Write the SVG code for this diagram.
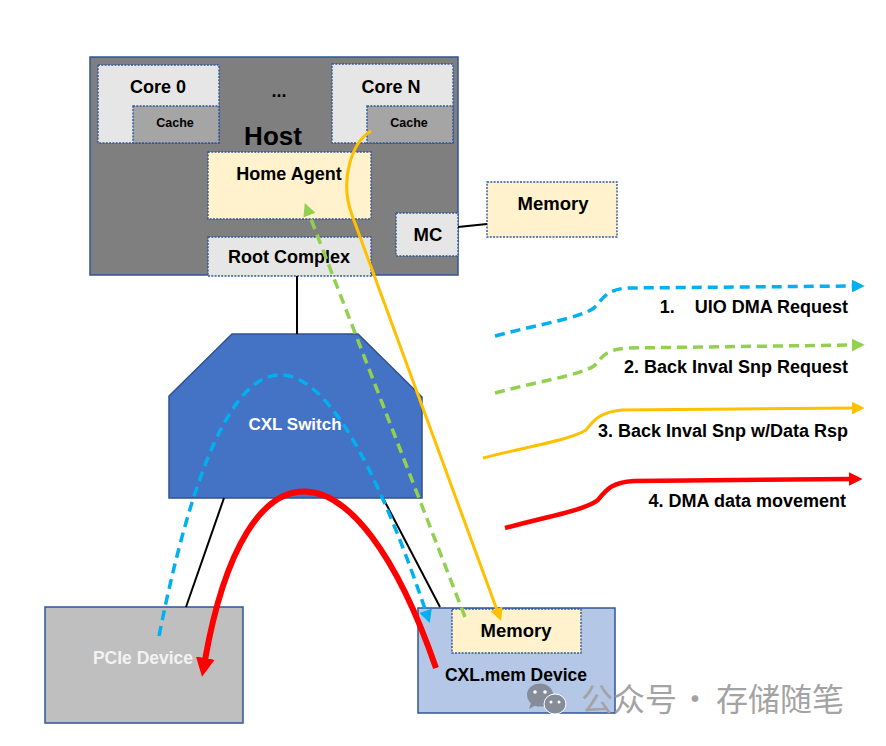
<svg xmlns="http://www.w3.org/2000/svg" width="886" height="746" viewBox="0 0 886 746">
<style>
text{font-family:"Liberation Sans",Arial,sans-serif;font-weight:bold;text-anchor:middle;fill:#000}
.solid{stroke:#2f5597;stroke-width:1.5}
.dot{stroke:#2f5597;stroke-width:1.4;stroke-dasharray:2 1.3}
.light{fill:#e7e6e6}
.cache{fill:#a5a5a5}
.cream{fill:#fff2cc}
.wire{stroke:#000;stroke-width:2;fill:none}
.blue{stroke:#00b0f0;stroke-width:3.5;fill:none;stroke-dasharray:10 6}
.green{stroke:#92d050;stroke-width:3.5;fill:none;stroke-dasharray:10 6}
.orange{stroke:#ffc000;stroke-width:3;fill:none}
.red{stroke:#ff0000;fill:none}
.leg{text-anchor:end;font-size:18px}
.wm{font-family:"Noto Sans CJK SC",sans-serif;font-weight:normal;fill:#a3a3a3;text-anchor:start;font-size:32px}
</style>
<defs>
<marker id="aBlue" viewBox="0 0 10 10" refX="1" refY="5" markerWidth="13" markerHeight="13" markerUnits="userSpaceOnUse" orient="auto"><path d="M0,0 L10,5 L0,10 z" fill="#00b0f0"/></marker>
<marker id="aGreen" viewBox="0 0 10 10" refX="1" refY="5" markerWidth="13" markerHeight="13" markerUnits="userSpaceOnUse" orient="auto"><path d="M0,0 L10,5 L0,10 z" fill="#92d050"/></marker>
<marker id="aOrange" viewBox="0 0 10 10" refX="1" refY="5" markerWidth="13" markerHeight="13" markerUnits="userSpaceOnUse" orient="auto"><path d="M0,0 L10,5 L0,10 z" fill="#ffc000"/></marker>
<marker id="aRed" viewBox="0 0 10 10" refX="1" refY="5" markerWidth="14" markerHeight="14" markerUnits="userSpaceOnUse" orient="auto"><path d="M0,0 L10,5 L0,10 z" fill="#ff0000"/></marker>
<marker id="aRedBig" viewBox="0 0 10 10" refX="1" refY="5" markerWidth="19" markerHeight="19" markerUnits="userSpaceOnUse" orient="auto"><path d="M0,0 L10,5 L0,10 z" fill="#ff0000"/></marker>
</defs>
<rect width="886" height="746" fill="#fff"/>

<g id="host">
<rect x="90" y="57" width="368" height="218" fill="#7f7f7f" class="solid"/>
<text x="273" y="145" style="font-size:26px">Host</text>
<text x="279" y="97" style="font-size:18px">...</text>
</g>
<g id="core0">
<rect x="98" y="65" width="121" height="78" class="light dot"/>
<rect x="133" y="106" width="86" height="37" class="cache dot"/>
<text x="158" y="93" style="font-size:18px">Core 0</text>
<text x="175" y="127" style="font-size:12.5px">Cache</text>
</g>
<g id="coreN">
<rect x="332" y="64" width="121" height="79" class="light dot"/>
<rect x="367" y="106" width="86" height="37" class="cache dot"/>
<text x="391" y="93" style="font-size:18px">Core N</text>
<text x="409" y="127" style="font-size:12.5px">Cache</text>
</g>
<g id="home-agent">
<rect x="208" y="152" width="163" height="67" class="cream dot"/>
<text x="289" y="180" style="font-size:18px">Home Agent</text>
</g>
<g id="root-complex">
<rect x="208" y="237" width="163" height="39" class="light dot"/>
<text x="289" y="263" style="font-size:18px">Root Complex</text>
</g>
<g id="mc">
<rect x="396" y="213" width="62" height="43" class="light dot"/>
<text x="428" y="241" style="font-size:18.5px">MC</text>
</g>
<g id="memory-host">
<rect x="487" y="182" width="130" height="55" class="cream dot"/>
<text x="553" y="210" style="font-size:18.5px">Memory</text>
</g>
<g id="cxl-switch">
<polygon points="232,334 358,334 422,397 422,498 169,498 169,396" fill="#4472c4" stroke="#2f528f" stroke-width="1.5"/>
<text x="295" y="430" style="font-size:17px;fill:#fff">CXL Switch</text>
</g>
<g id="pcie-device">
<rect x="45" y="607" width="198" height="116" fill="#bfbfbf" class="solid"/>
<text x="143" y="664" style="font-size:17.5px;fill:#f2f2f2">PCIe Device</text>
</g>
<g id="cxl-mem-device">
<rect x="418" y="608" width="197" height="105" fill="#b4c7e7" class="solid"/>
<rect x="452" y="609" width="129" height="44" class="cream dot"/>
<text x="516" y="637" style="font-size:18.5px">Memory</text>
<text x="516" y="681" style="font-size:17.5px">CXL.mem Device</text>
</g>

<g id="connectors">
<path class="wire" d="M458,227 L487,224"/>
<path class="wire" d="M297,276 L297,334"/>
<path class="wire" d="M224,498 L186,607"/>
<path class="wire" d="M383,498 L440,607"/>
<path class="blue" d="M159,636 C228,292 318,292 426,612" marker-end="url(#aBlue)"/>
<path class="green" d="M465,617 L309,214" marker-end="url(#aGreen)"/>
<path class="orange" d="M371,131 C352,142 339,180 352,215 L497,610" marker-end="url(#aOrange)"/>
<path class="red" stroke-width="6" d="M436,668 C355,434 245,434 205,660" marker-end="url(#aRedBig)"/>
</g>

<g id="legend">
<path class="blue" d="M495,336 C540,324 580,318 594,308 C602,300 606,289 628,288 L853,286" marker-end="url(#aBlue)"/>
<text class="leg" x="848" y="313" xml:space="preserve">1.    UIO DMA Request</text>
<path class="green" d="M495,393 C540,381 580,375 594,366 C602,357 606,349 628,348 L853,345" marker-end="url(#aGreen)"/>
<text class="leg" x="848" y="373">2. Back Inval Snp Request</text>
<path class="orange" d="M483,458 C530,446 570,440 586,430 C594,420 600,412 622,410 L853,408" marker-end="url(#aOrange)"/>
<text class="leg" x="848" y="437">3. Back Inval Snp w/Data Rsp</text>
<path class="red" stroke-width="4.5" d="M505,528 C550,516 585,510 598,500 C606,490 612,482 634,481 L850,479" marker-end="url(#aRed)"/>
<text class="leg" x="846" y="507">4. DMA data movement</text>
</g>

<g id="watermark">
<ellipse cx="540" cy="695" rx="13" ry="11.5" fill="#868d99"/>
<path d="M531,703 L529,709 L536,705 z" fill="#868d99"/>
<ellipse cx="555" cy="704" rx="11" ry="10" fill="#868d99" stroke="#fff" stroke-width="1"/>
<circle cx="535" cy="692" r="1.8" fill="#fff"/>
<circle cx="545" cy="692" r="1.8" fill="#fff"/>
<circle cx="551" cy="702" r="1.5" fill="#fff"/>
<circle cx="559" cy="702" r="1.5" fill="#fff"/>
<text class="wm" y="711"><tspan x="581">公众号</tspan><tspan x="679">·</tspan><tspan x="716">存储随笔</tspan></text>
</g>
</svg>
